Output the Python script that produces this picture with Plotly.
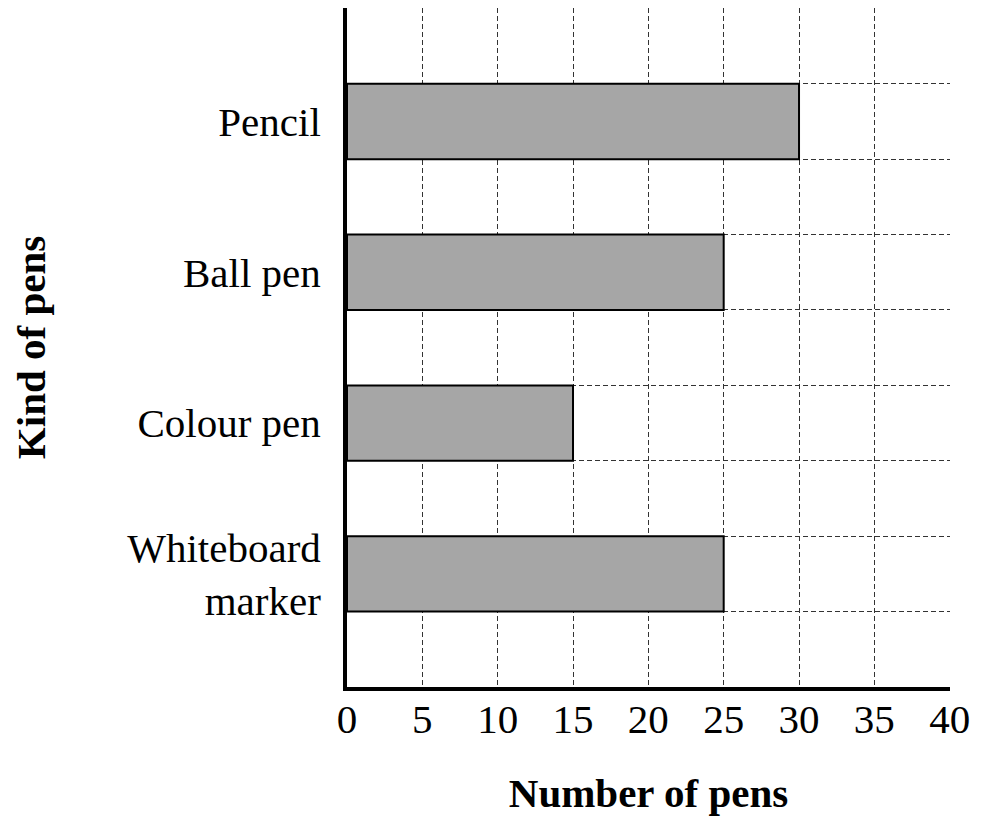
import plotly.graph_objects as go

kinds = ["Pencil", "Ball pen", "Colour pen", "Whiteboard<br>marker"]
counts = [30, 25, 15, 25]
x_ticks = [0, 5, 10, 15, 20, 25, 30, 35, 40]

# one bar every two grid rows, top to bottom
n = len(kinds)
y_pos = [2 * (n - 1 - i) + 1.5 for i in range(n)]

FONT = "Liberation Serif"

fig = go.Figure(go.Bar(
    x=counts,
    y=y_pos,
    orientation="h",
    width=1,
    marker=dict(color="#a6a6a6", line=dict(color="black", width=2)),
))

# page body adds an 8px offset, so the figure is a bit smaller than the window
fig.update_layout(
    width=973,
    height=808,
    margin=dict(l=339, r=31, t=0, b=129),
    plot_bgcolor="white",
    paper_bgcolor="white",
    showlegend=False,
    font=dict(family=FONT, size=41, color="black"),
)

fig.update_xaxes(
    range=[0, 40.02],
    tickvals=x_ticks,
    ticks="",
    showgrid=True,
    gridcolor="#333",
    gridwidth=1,
    griddash="5px,3px",
    showline=True,
    linecolor="black",
    linewidth=4,
    zeroline=False,
    automargin=False,
    ticklabelstandoff=-7,
    tickfont=dict(size=41),
    title=dict(text="<b>Number of pens</b>", standoff=51, font=dict(size=41)),
)

fig.update_yaxes(
    range=[0, 2 * n + 1.005],
    tickvals=y_pos,
    ticktext=kinds,
    ticks="",
    showgrid=False,
    minor=dict(tick0=0, dtick=1, showgrid=True, gridcolor="#333",
               gridwidth=1, griddash="5px,3px"),
    showline=True,
    linecolor="black",
    linewidth=4,
    zeroline=False,
    automargin=False,
    ticklabelstandoff=14,
    title=dict(text="<b>Kind of pens</b>", standoff=94, font=dict(size=41)),
)

fig.write_html("out.html")
